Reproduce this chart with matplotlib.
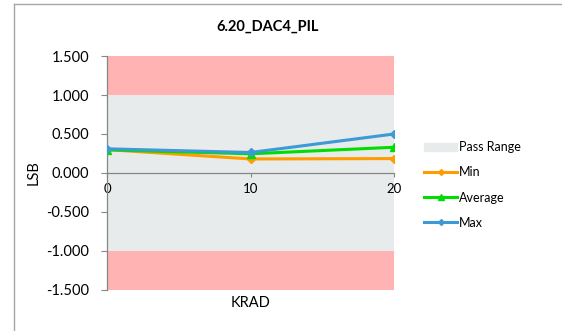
import matplotlib.pyplot as plt
from matplotlib.lines import Line2D
from matplotlib.patches import Patch

# KRAD dose steps and measured PIL values (LSB)
krad = [0, 10, 20]
min_vals = [0.300, 0.180, 0.185]
avg_vals = [0.297, 0.246, 0.330]
max_vals = [0.310, 0.263, 0.500]

pass_low, pass_high = -1.0, 1.0
y_low, y_high = -1.5, 1.5
y_ticks = [1.5, 1.0, 0.5, 0.0, -0.5, -1.0, -1.5]

plt.rcParams['font.family'] = ['Lato', 'DejaVu Sans']

fig = plt.figure(figsize=(5.62, 3.31), dpi=100)
ax = fig.add_axes([0.1904, 0.1239, 0.5107, 0.7069])

# chart area border
fig.add_artist(Line2D([14 / 562, 1.0], [1 - 4 / 331, 1 - 4 / 331], color='#a6a6a6', lw=1.0))
fig.add_artist(Line2D([14 / 562, 14 / 562], [0.0, 1 - 4 / 331], color='#a6a6a6', lw=1.0))

# fail bands and pass range
ax.fill_between(krad[::2], pass_high, y_high, color='#ffb3b3', lw=0, zorder=0)
ax.fill_between(krad[::2], y_low, pass_low, color='#ffb3b3', lw=0, zorder=0)
ax.fill_between(krad[::2], pass_low, pass_high, color='#e7ebeb', lw=0, zorder=0)

ax.plot(krad, min_vals, color='#ff9c00', lw=2.2, marker='D', ms=4.5, zorder=3)
ax.plot(krad, avg_vals, color='#00dd00', lw=2.2, marker='^', ms=5.5, zorder=4)
ax.plot(krad, max_vals, color='#3d9ad4', lw=2.2, marker='D', ms=4.5, zorder=5)

ax.set_xlim(0, 20)
ax.set_ylim(y_low, y_high)
ax.set_xticks(krad)
ax.set_yticks(y_ticks)
ax.set_yticklabels(['%.3f' % v for v in y_ticks])
ax.tick_params(axis='y', labelsize=10.5, length=4, color='#868686', pad=9)
ax.tick_params(axis='x', labelsize=9.5, length=3, color='#868686', pad=4)

ax.spines['bottom'].set_position(('data', 0))
for side in ('top', 'right'):
    ax.spines[side].set_visible(False)
for side in ('left', 'bottom'):
    ax.spines[side].set_color('#868686')
    ax.spines[side].set_linewidth(0.9)
ax.set_facecolor('white')

fig.text(268 / 562, 1 - 27 / 331, '6.20_DAC4_PIL', ha='center', va='center',
         fontsize=10.5, fontweight='bold')
ax.set_ylabel('LSB', fontsize=10.5, labelpad=4)
fig.text(251 / 562, 1 - 303 / 331, 'KRAD', ha='center', va='center', fontsize=10.5)

handles = [
    Patch(color='#e7ebeb'),
    Line2D([], [], color='#ff9c00', lw=2.2, marker='D', ms=3),
    Line2D([], [], color='#00dd00', lw=2.2, marker='^', ms=4),
    Line2D([], [], color='#3d9ad4', lw=2.2, marker='D', ms=3),
]
fig.legend(handles, ['Pass Range', 'Min', 'Average', 'Max'], loc='center left',
           bbox_to_anchor=(413 / 562, 1 - 185 / 331), frameon=False, fontsize=9,
           handlelength=2.6, handletextpad=0.15, labelspacing=1.05)

fig.savefig('out.png', dpi=100)
